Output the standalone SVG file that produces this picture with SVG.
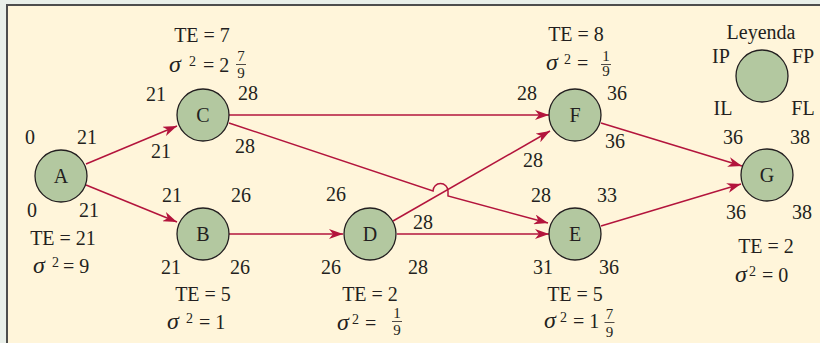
<svg xmlns="http://www.w3.org/2000/svg" width="820" height="343" viewBox="0 0 820 343">
<defs>
<style>
.t{font-family:"Liberation Serif","Times New Roman",serif;font-size:20px;fill:#231f20}
.m{text-anchor:middle}
.i{font-style:italic;font-size:24px}
.s{font-size:14px}
.fr{font-family:"Liberation Serif","Times New Roman",serif;font-size:15px;fill:#231f20;text-anchor:middle}
.bar{stroke:#231f20;stroke-width:0.8}
.n{fill:#b3c8a0;stroke:#231f20;stroke-width:1.3}
.e{fill:none;stroke:#b3143c;stroke-width:1.5}
</style>
<marker id="ah" markerUnits="userSpaceOnUse" viewBox="0 0 14 10" refX="14" refY="5" markerWidth="14" markerHeight="10" orient="auto">
<path d="M0,0 L14,5 L0,10 L4,5 z" fill="#b3143c"/>
</marker>
</defs>
<rect x="0" y="0" width="820" height="343" fill="#e9efe9"/>
<rect x="7" y="5" width="820" height="345" fill="#fff5da" stroke="#4d4d4d" stroke-width="2"/>

<g id="connectors">
<path class="e" marker-end="url(#ah)" d="M86,164 L177,126"/>
<path class="e" marker-end="url(#ah)" d="M86,185 L177,222"/>
<path class="e" marker-end="url(#ah)" d="M229,115 L549,115"/>
<path class="e" marker-end="url(#ah)" d="M229,123 L433,191 A7.5,7.5 0 0 1 448,191 L448,196 L548,223"/>
<path class="e" marker-end="url(#ah)" d="M229,234 L343,234"/>
<path class="e" marker-end="url(#ah)" d="M393,221 L550,131"/>
<path class="e" marker-end="url(#ah)" d="M397,234 L549,234"/>
<path class="e" marker-end="url(#ah)" d="M601,123 L742,166"/>
<path class="e" marker-end="url(#ah)" d="M601,226 L741,184"/>
</g>

<g id="nodeA">
<circle class="n" cx="61" cy="176" r="26"/>
<text class="t m" x="61" y="183">A</text>
<text class="t m" x="30" y="144">0</text>
<text class="t m" x="87" y="144">21</text>
<text class="t m" x="32" y="217">0</text>
<text class="t m" x="89" y="217">21</text>
<text class="t m" x="63" y="245">TE = 21</text>
<text class="t" y="273"><tspan x="33" class="i">σ</tspan><tspan x="52" y="267" class="s">2</tspan><tspan x="63" y="273">= 9</tspan></text>
</g>

<g id="nodeC">
<circle class="n" cx="203" cy="115" r="26"/>
<text class="t m" x="203" y="122">C</text>
<text class="t m" x="202" y="42">TE = 7</text>
<text class="t" y="72"><tspan x="169" class="i">σ</tspan><tspan x="189" y="66" class="s">2</tspan><tspan x="203" y="72">= 2</tspan></text>
<text class="fr" x="241" y="61">7</text>
<line class="bar" x1="236" y1="64.5" x2="246" y2="64.5"/>
<text class="fr" x="241" y="78">9</text>
<text class="t m" x="156" y="101">21</text>
<text class="t m" x="248" y="100">28</text>
<text class="t m" x="161" y="158">21</text>
<text class="t m" x="245" y="153">28</text>
</g>

<g id="nodeB">
<circle class="n" cx="203" cy="234" r="26"/>
<text class="t m" x="203" y="241">B</text>
<text class="t m" x="172" y="202">21</text>
<text class="t m" x="241" y="202">26</text>
<text class="t m" x="171" y="274">21</text>
<text class="t m" x="240" y="274">26</text>
<text class="t m" x="203" y="301">TE = 5</text>
<text class="t" y="329"><tspan x="167" class="i">σ</tspan><tspan x="186" y="323" class="s">2</tspan><tspan x="199" y="329">= 1</tspan></text>
</g>

<g id="nodeD">
<circle class="n" cx="370" cy="234" r="26"/>
<text class="t m" x="370" y="241">D</text>
<text class="t m" x="336" y="201">26</text>
<text class="t m" x="423" y="229">28</text>
<text class="t m" x="331" y="274">26</text>
<text class="t m" x="418" y="274">28</text>
<text class="t m" x="370" y="301">TE = 2</text>
<text class="t" y="330"><tspan x="337" class="i">σ</tspan><tspan x="352" y="324" class="s">2</tspan><tspan x="365" y="330">=</tspan></text>
<text class="fr" x="397" y="318">1</text>
<line class="bar" x1="392" y1="321.5" x2="402" y2="321.5"/>
<text class="fr" x="397" y="335">9</text>
</g>

<g id="nodeF">
<circle class="n" cx="575" cy="115" r="26"/>
<text class="t m" x="575" y="122">F</text>
<text class="t m" x="576" y="41">TE = 8</text>
<text class="t" y="70"><tspan x="546" class="i">σ</tspan><tspan x="564" y="64" class="s">2</tspan><tspan x="577" y="70">=</tspan></text>
<text class="fr" x="606" y="61">1</text>
<line class="bar" x1="601" y1="64.5" x2="611" y2="64.5"/>
<text class="fr" x="606" y="76">9</text>
<text class="t m" x="527" y="100">28</text>
<text class="t m" x="617" y="100">36</text>
<text class="t m" x="615" y="148">36</text>
<text class="t m" x="533" y="167">28</text>
</g>

<g id="nodeE">
<circle class="n" cx="575" cy="234" r="26"/>
<text class="t m" x="575" y="241">E</text>
<text class="t m" x="541" y="202">28</text>
<text class="t m" x="607" y="202">33</text>
<text class="t m" x="543" y="274">31</text>
<text class="t m" x="609" y="274">36</text>
<text class="t m" x="575" y="301">TE = 5</text>
<text class="t" y="328"><tspan x="544" class="i">σ</tspan><tspan x="560" y="322" class="s">2</tspan><tspan x="573" y="328">= 1</tspan></text>
<text class="fr" x="609.5" y="319">7</text>
<line class="bar" x1="604.5" y1="322.5" x2="614.5" y2="322.5"/>
<text class="fr" x="609.5" y="337">9</text>
</g>

<g id="nodeG">
<circle class="n" cx="767" cy="175" r="26"/>
<text class="t m" x="767" y="182">G</text>
<text class="t m" x="733" y="144">36</text>
<text class="t m" x="800" y="144">38</text>
<text class="t m" x="736" y="219">36</text>
<text class="t m" x="802" y="219">38</text>
<text class="t m" x="766" y="253">TE = 2</text>
<text class="t" y="282"><tspan x="735" class="i">σ</tspan><tspan x="749" y="276" class="s">2</tspan><tspan x="762" y="282">= 0</tspan></text>
</g>

<g id="legend">
<text class="t m" x="761" y="39">Leyenda</text>
<circle class="n" cx="762" cy="76" r="26"/>
<text class="t m" x="721" y="63">IP</text>
<text class="t m" x="803" y="63">FP</text>
<text class="t m" x="723" y="115">IL</text>
<text class="t m" x="803" y="115">FL</text>
</g>
</svg>
